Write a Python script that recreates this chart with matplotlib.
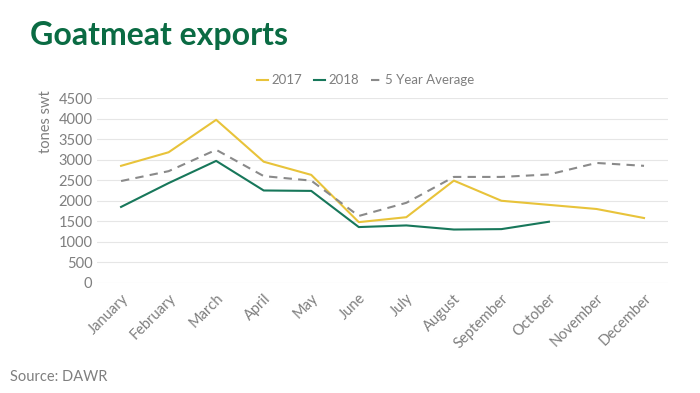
import matplotlib.pyplot as plt

plt.rcParams['font.family'] = ['Lato', 'DejaVu Sans']

months = ['January', 'February', 'March', 'April', 'May', 'June', 'July',
          'August', 'September', 'October', 'November', 'December']
exports_2017 = [2850, 3180, 3970, 2950, 2630, 1480, 1600, 2490, 2000, 1900, 1800, 1580]
exports_2018 = [1850, 2430, 2970, 2250, 2240, 1360, 1400, 1300, 1310, 1490]
avg_5yr = [2480, 2720, 3240, 2600, 2490, 1630, 1950, 2580, 2580, 2640, 2920, 2850]
yticks = list(range(0, 5000, 500))

fig = plt.figure(figsize=(7, 3.93), dpi=100)
ax = fig.add_axes([0.139, 0.28, 0.815, 0.4706])

ax.plot(range(12), exports_2017, color='#e8c33a', lw=1.5, label='2017')
ax.plot(range(len(exports_2018)), exports_2018, color='#17775a', lw=1.5, label='2018')
ax.plot(range(12), avg_5yr, color='#8a8a8a', lw=1.5, ls=(0, (4, 3)), label='5 Year Average')

ax.set_xlim(-0.5, 11.5)
ax.set_ylim(0, 4500)
ax.set_yticks(yticks)
ax.set_xticks(range(12))
ax.set_xticklabels(months, rotation=45, ha='right', rotation_mode='anchor', fontsize=9.5)
ax.grid(axis='y', color='#e6e6e6', lw=0.8)
ax.set_axisbelow(True)
for s in ax.spines.values():
    s.set_visible(False)
ax.tick_params(length=0, colors='#7f7f7f', labelsize=10.5)
ax.tick_params(axis='x', pad=6)
ax.set_ylabel('tones swt', color='#7f7f7f', fontsize=10.5, labelpad=2)
ax.yaxis.set_label_coords(-0.078, 0.87)

leg = ax.legend(loc='lower center', bbox_to_anchor=(0.47, 1.0), ncol=3, frameon=False,
                fontsize=9.5, handlelength=0.9, handletextpad=0.2, columnspacing=0.9,
                labelcolor='#7f7f7f')

fig.text(0.043, 0.91, 'Goatmeat exports', fontsize=23, fontweight='bold',
         color='#0a6b43', va='center')
fig.text(0.014, 0.04, 'Source: DAWR', fontsize=10.5, color='#7f7f7f', va='center')

fig.savefig('out.png', dpi=100)
